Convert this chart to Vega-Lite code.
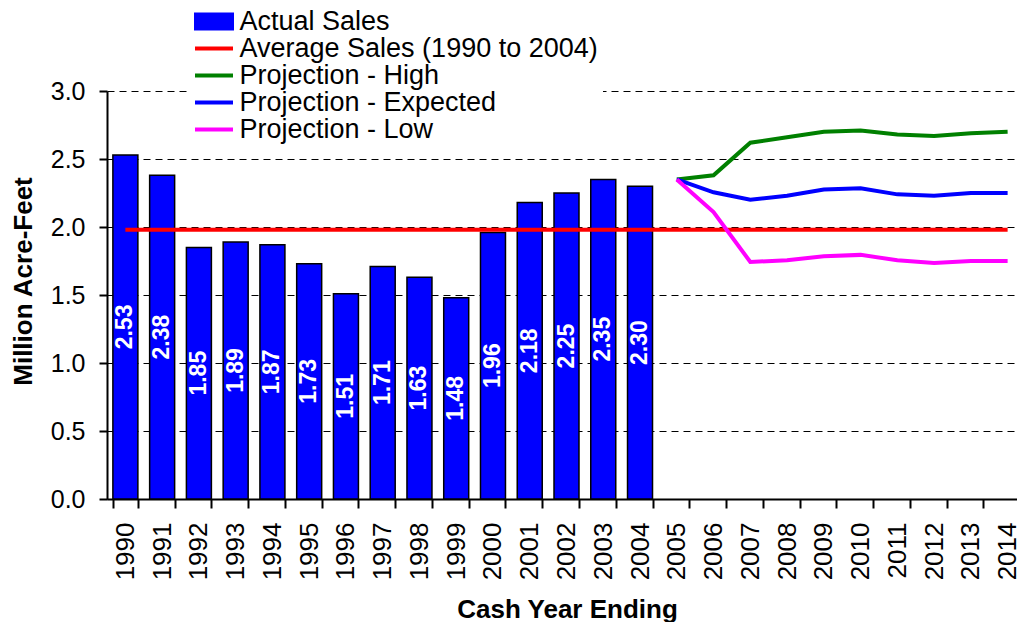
{
  "$schema": "https://vega.github.io/schema/vega-lite/v6.json",
  "width": 910,
  "height": 408,
  "autosize": {"type": "none"},
  "padding": {"left": 107, "top": 91, "right": 0, "bottom": 123},
  "background": "white",
  "config": {
    "view": {"stroke": null},
    "font": "Liberation Sans",
    "legend": {"labelFontSize": 27, "labelLimit": 0, "labelColor": "black", "labelFont": "Liberation Sans"}
  },
  "data": {"values": [
    {"year": "1990", "series": "Actual Sales", "value": 2.53},
    {"year": "1991", "series": "Actual Sales", "value": 2.38},
    {"year": "1992", "series": "Actual Sales", "value": 1.85},
    {"year": "1993", "series": "Actual Sales", "value": 1.89},
    {"year": "1994", "series": "Actual Sales", "value": 1.87},
    {"year": "1995", "series": "Actual Sales", "value": 1.73},
    {"year": "1996", "series": "Actual Sales", "value": 1.51},
    {"year": "1997", "series": "Actual Sales", "value": 1.71},
    {"year": "1998", "series": "Actual Sales", "value": 1.63},
    {"year": "1999", "series": "Actual Sales", "value": 1.48},
    {"year": "2000", "series": "Actual Sales", "value": 1.96},
    {"year": "2001", "series": "Actual Sales", "value": 2.18},
    {"year": "2002", "series": "Actual Sales", "value": 2.25},
    {"year": "2003", "series": "Actual Sales", "value": 2.35},
    {"year": "2004", "series": "Actual Sales", "value": 2.30},
    {"year": "1990", "series": "Average Sales (1990 to 2004)", "value": 1.98},
    {"year": "2014", "series": "Average Sales (1990 to 2004)", "value": 1.98},
    {"year": "2005", "series": "Projection - High", "value": 2.35},
    {"year": "2006", "series": "Projection - High", "value": 2.38},
    {"year": "2007", "series": "Projection - High", "value": 2.62},
    {"year": "2008", "series": "Projection - High", "value": 2.66},
    {"year": "2009", "series": "Projection - High", "value": 2.70},
    {"year": "2010", "series": "Projection - High", "value": 2.71},
    {"year": "2011", "series": "Projection - High", "value": 2.68},
    {"year": "2012", "series": "Projection - High", "value": 2.67},
    {"year": "2013", "series": "Projection - High", "value": 2.69},
    {"year": "2014", "series": "Projection - High", "value": 2.70},
    {"year": "2005", "series": "Projection - Expected", "value": 2.35},
    {"year": "2006", "series": "Projection - Expected", "value": 2.255},
    {"year": "2007", "series": "Projection - Expected", "value": 2.20},
    {"year": "2008", "series": "Projection - Expected", "value": 2.23},
    {"year": "2009", "series": "Projection - Expected", "value": 2.275},
    {"year": "2010", "series": "Projection - Expected", "value": 2.285},
    {"year": "2011", "series": "Projection - Expected", "value": 2.24},
    {"year": "2012", "series": "Projection - Expected", "value": 2.23},
    {"year": "2013", "series": "Projection - Expected", "value": 2.25},
    {"year": "2014", "series": "Projection - Expected", "value": 2.25},
    {"year": "2005", "series": "Projection - Low", "value": 2.35},
    {"year": "2006", "series": "Projection - Low", "value": 2.11},
    {"year": "2007", "series": "Projection - Low", "value": 1.743},
    {"year": "2008", "series": "Projection - Low", "value": 1.755},
    {"year": "2009", "series": "Projection - Low", "value": 1.785},
    {"year": "2010", "series": "Projection - Low", "value": 1.795},
    {"year": "2011", "series": "Projection - Low", "value": 1.755},
    {"year": "2012", "series": "Projection - Low", "value": 1.735},
    {"year": "2013", "series": "Projection - Low", "value": 1.75},
    {"year": "2014", "series": "Projection - Low", "value": 1.75}
  ]},
  "encoding": {
    "x": {
      "field": "year",
      "type": "ordinal",
      "scale": {
        "domain": ["1990","1991","1992","1993","1994","1995","1996","1997","1998","1999","2000","2001","2002","2003","2004","2005","2006","2007","2008","2009","2010","2011","2012","2013","2014"],
        "range": [0, 919],
        "paddingInner": 0.32,
        "paddingOuter": 0.16
      },
      "axis": {
        "title": "Cash Year Ending",
        "titleFontSize": 26,
        "titleFontWeight": "bold",
        "titleColor": "black",
        "titleX": 460,
        "titleY": 110,
        "titleBaseline": "middle",
        "labelAngle": 270,
        "labelFontSize": 26,
        "labelColor": "black",
        "labelPadding": 14,
        "tickBand": "extent",
        "tickSize": 9,
        "tickWidth": 2,
        "tickColor": "black",
        "domainWidth": 2,
        "domainColor": "black",
        "grid": false
      }
    },
    "color": {
      "field": "series",
      "type": "nominal",
      "scale": {
        "domain": ["Actual Sales", "Average Sales (1990 to 2004)", "Projection - High", "Projection - Expected", "Projection - Low"],
        "range": ["#0000FF", "#FF0000", "#008000", "#0000FF", "#FF00FF"]
      },
      "legend": {
        "orient": "none",
        "legendX": 81,
        "legendY": -88,
        "title": null,
        "fillColor": "white",
        "padding": 5,
        "labelFontSize": 27,
        "labelLimit": 0,
        "labelColor": "black",
        "symbolSize": 400,
        "rowPadding": -1,
        "symbolOffset": 7.5,
        "labelOffset": 12,
        "symbolType": "M-1.9,0H1.9",
        "symbolStrokeWidth": 4,
        "encode": {
          "symbols": {
            "update": {
              "shape": {"signal": "datum.value === 'Actual Sales' ? 'M-1.9,-0.8H1.9V0.8H-1.9Z' : 'M-1.9,0H1.9'"},
              "fill": {"signal": "datum.value === 'Actual Sales' ? '#0000FF' : 'transparent'"},
              "stroke": {"signal": "datum.value === 'Actual Sales' ? 'black' : datum.value === 'Average Sales (1990 to 2004)' ? '#FF0000' : datum.value === 'Projection - High' ? '#008000' : datum.value === 'Projection - Expected' ? '#0000FF' : '#FF00FF'"},
              "strokeWidth": {"signal": "datum.value === 'Actual Sales' ? 2 : 4"},
              "opacity": {"value": 1},
              "fillOpacity": {"value": 1},
              "strokeOpacity": {"value": 1}
            }
          }
        }
      }
    }
  },
  "layer": [
    {
      "transform": [{"filter": "datum.series === 'Actual Sales'"}],
      "mark": {"type": "bar", "stroke": "black", "strokeWidth": 1.5},
      "encoding": {
        "y": {
          "field": "value",
          "type": "quantitative",
          "scale": {"domain": [0, 3], "nice": false},
          "axis": {
            "values": [0, 0.5, 1, 1.5, 2, 2.5, 3],
            "format": ".1f",
            "title": "Million Acre-Feet",
            "titleFontSize": 26,
            "titleFontWeight": "bold",
            "titleColor": "black",
            "titleX": -84,
            "titleY": 190,
            "titleBaseline": "middle",
            "titleAlign": "center",
            "labelFontSize": 25,
            "labelColor": "black",
            "labelPadding": 14,
            "tickSize": 8,
            "tickWidth": 2,
            "tickColor": "black",
            "domainWidth": 2,
            "domainColor": "black",
            "grid": true,
            "gridColor": "black",
            "gridDash": [7, 5],
            "gridWidth": 1
          }
        }
      }
    },
    {
      "transform": [{"filter": "datum.series === 'Actual Sales'"}],
      "mark": {"type": "text", "angle": 270, "align": "center", "baseline": "middle", "fontSize": 23, "fontWeight": "bold", "font": "Liberation Sans"},
      "encoding": {
        "y": {"field": "value", "type": "quantitative", "scale": {"domain": [0, 6], "nice": false}, "axis": null},
        "text": {"field": "value", "type": "quantitative", "format": ".2f"},
        "color": {"value": "white"}
      }
    },
    {
      "transform": [{"filter": "datum.series !== 'Actual Sales'"}],
      "mark": {"type": "line", "strokeWidth": 4},
      "encoding": {
        "y": {"field": "value", "type": "quantitative", "scale": {"domain": [0, 3], "nice": false}, "axis": null}
      }
    }
  ],
  "resolve": {"scale": {"y": "independent"}}
}
